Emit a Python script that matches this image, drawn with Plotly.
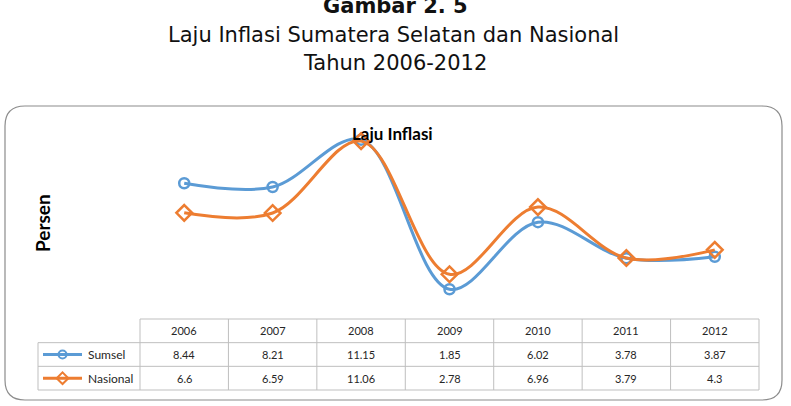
import plotly.graph_objects as go

# ---- data ----
YEARS = ["2006", "2007", "2008", "2009", "2010", "2011", "2012"]
SUMSEL = [8.44, 8.21, 11.15, 1.85, 6.02, 3.78, 3.87]
NASIONAL = [6.6, 6.59, 11.06, 2.78, 6.96, 3.79, 4.3]
SERIES_NAMES = ["Sumsel", "Nasional"]
VALUE_LABELS = [["8.44", "8.21", "11.15", "1.85", "6.02", "3.78", "3.87"],
                ["6.6", "6.59", "11.06", "2.78", "6.96", "3.79", "4.3"]]

# ---- layout constants (pixels) ----
W, H = 791, 406
BLUE, ORANGE = "#5B9BD5", "#ED7D31"
GRID = "#BFBFBF"
TXT = "#262626"
COL_L, COL_R = 140, 759          # left/right of data columns
COL_W = (COL_R - COL_L) / len(YEARS)
PLOT_TOP, PLOT_BOT = 126, 319    # y=12 .. y=0
TAB_TOP, TAB_BOT = 319, 390
ROW_H = (TAB_BOT - TAB_TOP) / 3
LABEL_LEFT = 38

def px_u(px):
    return (px - COL_L) / COL_W - 0.5

def u_px(u):
    return COL_L + (u + 0.5) * COL_W

n = len(YEARS)
fig = go.Figure()

# main chart
for vals, col, sym, sz, nm in [(SUMSEL, BLUE, "circle-open", 10, SERIES_NAMES[0]),
                               (NASIONAL, ORANGE, "diamond-open", 12, SERIES_NAMES[1])]:
    fig.add_trace(go.Scatter(
        x=list(range(n)), y=vals, mode="lines+markers", name=nm,
        line=dict(color=col, width=3, shape="spline", smoothing=1.0),
        marker=dict(symbol=sym, size=sz, color=col, line=dict(width=2.5, color=col)),
        xaxis="x", yaxis="y", showlegend=False, cliponaxis=False))

# table axes with padding
PADX, PADY = 0.06, 0.06
x2_lo = px_u(LABEL_LEFT) - PADX
x2_hi = n - 0.5 + PADX
y2_top_px = TAB_TOP - PADY * ROW_H
y2_bot_px = TAB_BOT + PADY * ROW_H

layout = dict(
    width=W, height=H, margin=dict(l=0, r=0, t=0, b=0),
    paper_bgcolor="white", plot_bgcolor="rgba(0,0,0,0)",
    xaxis=dict(domain=[COL_L / W, COL_R / W], range=[-0.5, n - 0.5],
               visible=False, fixedrange=True),
    yaxis=dict(domain=[1 - PLOT_BOT / H, 1 - PLOT_TOP / H], range=[0, 12],
               visible=False, fixedrange=True),
    xaxis2=dict(domain=[u_px(x2_lo) / W, u_px(x2_hi) / W], range=[x2_lo, x2_hi],
                visible=False, anchor="y2"),
    yaxis2=dict(domain=[1 - y2_bot_px / H, 1 - y2_top_px / H], range=[3 + PADY, -PADY],
                visible=False, anchor="x2"),
    showlegend=False,
)
fig.update_layout(**layout)

shapes = []
# outer rounded box
bx0, by0, bx1, by1, r = 5, 106, 782, 400, 20
def P(x, y):
    return f"{x / W:.5f},{1 - y / H:.5f}"
path = (f"M {P(bx0 + r, by0)} L {P(bx1 - r, by0)} Q {P(bx1, by0)} {P(bx1, by0 + r)} "
        f"L {P(bx1, by1 - r)} Q {P(bx1, by1)} {P(bx1 - r, by1)} "
        f"L {P(bx0 + r, by1)} Q {P(bx0, by1)} {P(bx0, by1 - r)} "
        f"L {P(bx0, by0 + r)} Q {P(bx0, by0)} {P(bx0 + r, by0)} Z")
shapes.append(dict(type="path", xref="paper", yref="paper", path=path,
                   line=dict(color="#8C8C8C", width=1.2), layer="below"))

lab_l = px_u(LABEL_LEFT)
# horizontal table lines
shapes.append(dict(type="line", xref="x2", yref="y2", x0=-0.5, x1=n - 0.5, y0=0, y1=0,
                   line=dict(color=GRID, width=1)))
for yy in (1, 2, 3):
    shapes.append(dict(type="line", xref="x2", yref="y2", x0=lab_l, x1=n - 0.5, y0=yy, y1=yy,
                       line=dict(color=GRID, width=1)))
# vertical lines
shapes.append(dict(type="line", xref="x2", yref="y2", x0=lab_l, x1=lab_l, y0=1, y1=3,
                   line=dict(color=GRID, width=1)))
for i in range(n + 1):
    shapes.append(dict(type="line", xref="x2", yref="y2", x0=i - 0.5, x1=i - 0.5, y0=0, y1=3,
                       line=dict(color=GRID, width=1)))
fig.update_layout(shapes=shapes)

# legend keys in table
for row, col, sym, sz in [(1.5, BLUE, "circle-open", 8), (2.5, ORANGE, "diamond-open", 9)]:
    fig.add_trace(go.Scatter(
        x=[px_u(43), px_u(82)], y=[row, row], mode="lines",
        line=dict(color=col, width=3), xaxis="x2", yaxis="y2",
        hoverinfo="skip", showlegend=False))
    fig.add_trace(go.Scatter(
        x=[px_u(62.5)], y=[row], mode="markers",
        marker=dict(symbol=sym, size=sz, color=col, line=dict(width=2, color=col)),
        xaxis="x2", yaxis="y2", hoverinfo="skip", showlegend=False))

ann = []
TF = dict(family="Lato, Carlito, sans-serif", size=11, color=TXT)
for i, yr in enumerate(YEARS):
    ann.append(dict(x=i, y=0.5, xref="x2", yref="y2", text=yr, showarrow=False, font=TF))
    for r_i, labels in enumerate(VALUE_LABELS):
        ann.append(dict(x=i, y=1.5 + r_i, xref="x2", yref="y2", text=labels[i],
                        showarrow=False, font=TF))
for r_i, nm in enumerate(SERIES_NAMES):
    ann.append(dict(x=px_u(86), y=1.5 + r_i, xref="x2", yref="y2", text=nm, xanchor="left",
                    showarrow=False, font=dict(family="Lato, sans-serif", size=12, color=TXT)))

# titles
TITLE_FONT = "Tahoma, 'DejaVu Sans', sans-serif"
ann.append(dict(x=395 / W, y=1 - 6 / H, xref="paper", yref="paper", text="<b>Gambar 2. 5</b>",
                showarrow=False, yanchor="middle",
                font=dict(family=TITLE_FONT, size=21, color="#111111")))
ann.append(dict(x=393 / W, y=1 - 35 / H, xref="paper", yref="paper",
                text="Laju Inflasi Sumatera Selatan dan Nasional",
                showarrow=False, yanchor="middle",
                font=dict(family=TITLE_FONT, size=21, color="#111111")))
ann.append(dict(x=395 / W, y=1 - 63 / H, xref="paper", yref="paper", text="Tahun 2006-2012",
                showarrow=False, yanchor="middle",
                font=dict(family=TITLE_FONT, size=21, color="#111111")))
ann.append(dict(x=392 / W, y=1 - 133 / H, xref="paper", yref="paper", text="<b>Laju Inflasi</b>",
                showarrow=False, yanchor="middle",
                font=dict(family="Lato, sans-serif", size=17, color="#000000")))
ann.append(dict(x=42 / W, y=1 - 223 / H, xref="paper", yref="paper", text="<b>Persen</b>",
                showarrow=False, textangle=-90, xanchor="center", yanchor="middle",
                font=dict(family="Lato, sans-serif", size=19, color="#000000")))
fig.update_layout(annotations=ann)

fig.write_html("out.html")
